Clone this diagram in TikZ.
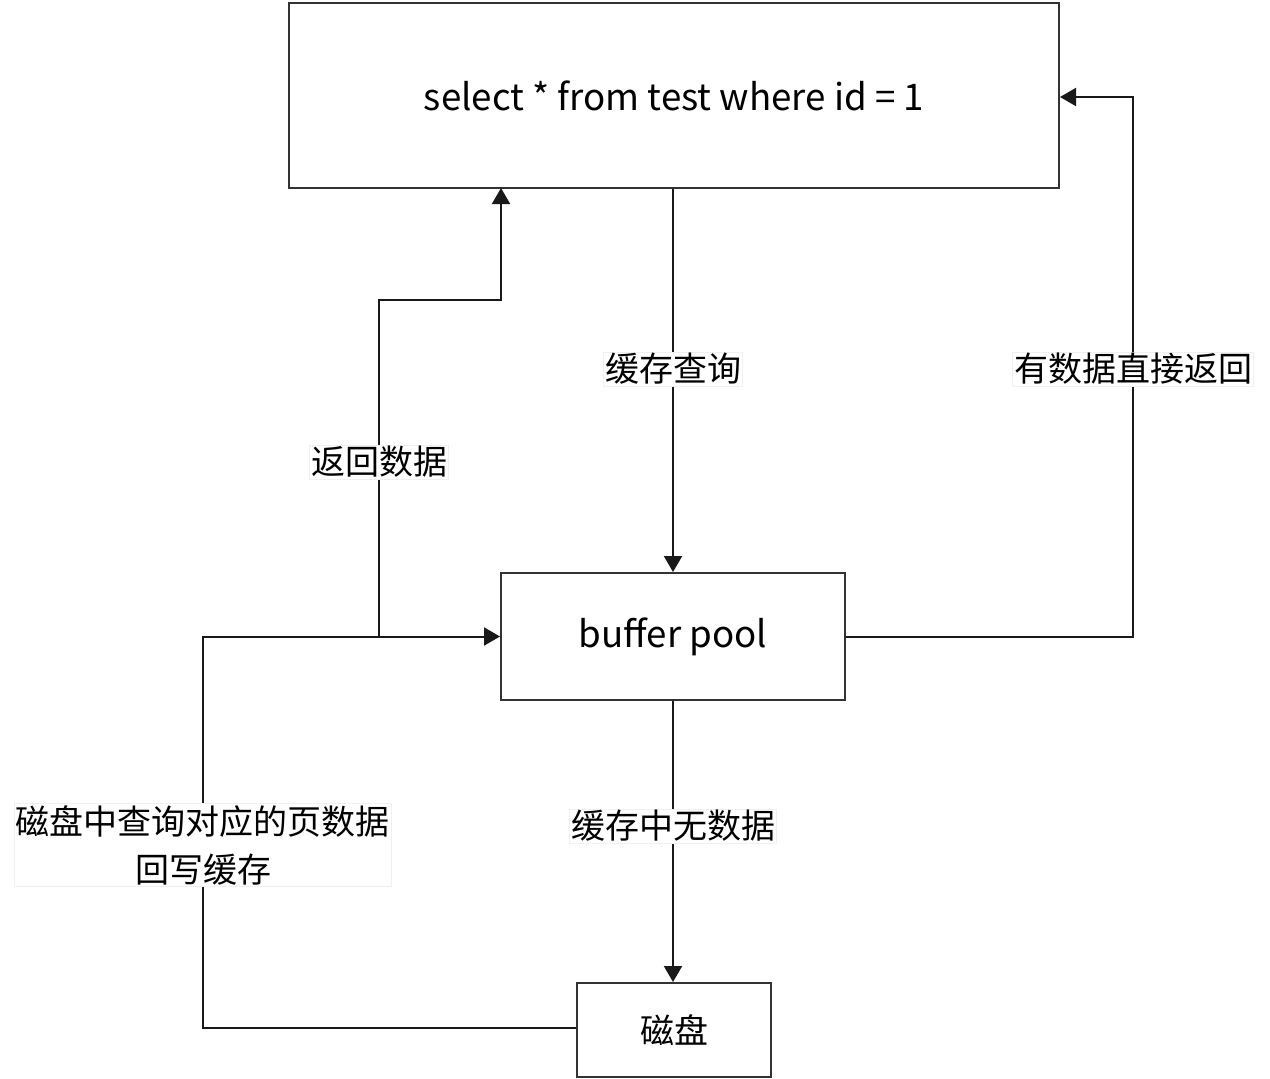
\documentclass[tikz,border=0pt]{standalone}
\usepackage{fontspec}
\setmainfont{Noto Sans CJK SC}
\usetikzlibrary{arrows.meta}
\begin{document}
\begin{tikzpicture}[x=0.75pt,y=-0.75pt,
  box/.style={draw=black!80,line width=1.5pt,fill=white,inner sep=0pt,font=\fontsize{27.5pt}{36pt}\selectfont},
  conn/.style={draw=black!90,line width=1.5pt,-{Triangle[length=12pt,width=13.5pt]}},
  lbl/.style={fill=white,draw=black!6,line width=0.5pt,inner sep=1pt,align=center,font=\fontsize{25.5pt}{36pt}\selectfont}]
\useasboundingbox (0,0) rectangle (1270,1078);
\node[box,minimum width=770*0.75pt,minimum height=185*0.75pt] (q) at (674,95.5) {select * from test where id = 1};
\node[box,minimum width=344*0.75pt,minimum height=127*0.75pt] (bp) at (673,636.5) {buffer pool};
\node[box,font=\fontsize{25.5pt}{36pt}\selectfont,minimum width=194*0.75pt,minimum height=94*0.75pt] (disk) at (674,1030) {磁盘};
\coordinate (j) at (379,636.5);
% query -> buffer pool
\draw[conn] (q.south -| bp.north) -- (bp.north);
\node[lbl] (l1) at (673,369) {缓存查询};
% buffer pool -> query (hit)
\draw[conn] (bp.east) -- (1133,636.5) -- (1133,97) -- (q.east |- 0,97);
\node[lbl] (l2) at (1133,369) {有数据直接返回};
% buffer pool -> disk
\draw[conn] (bp.south) -- (bp.south |- disk.north);
\node[lbl] (l3) at (673,826) {缓存中无数据};
% disk -> buffer pool
\draw[conn] (disk.west |- 0,1028) -- (203,1028) -- (203,636.5) -- (bp.west);
\node[lbl] (l4) at (203,845) {磁盘中查询对应的页数据\\回写缓存};
% return data
\draw[conn] (j) -- (379,300) -- (501,300) -- (501,188);
\node[lbl] (l5) at (379,462) {返回数据};
\end{tikzpicture}
\end{document}
